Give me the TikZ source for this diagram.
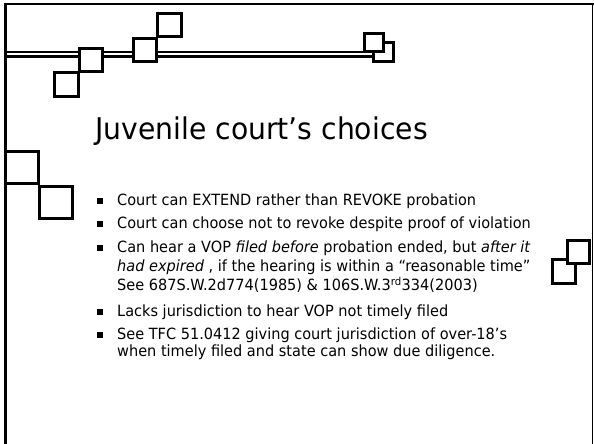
\documentclass[tikz,border=0pt]{standalone}
\usepackage{fontspec}
\setmainfont{DejaVu Sans}[FakeStretch=0.94]
\newfontfamily\titlefont{DejaVu Sans}[FakeStretch=0.945]
\begin{document}
\begin{tikzpicture}[x=1bp,y=-1bp,
  sq/.style={draw=black,line width=3bp,fill=white,line join=miter},
  bigsq/.style={draw=black,line width=3.4bp,fill=white,line join=miter},
  frameline/.style={draw=black,line width=2.4bp},
  body/.style={anchor=base west,inner sep=0pt,font=\fontsize{15.5}{18}\selectfont},
  bul/.style={fill=black,minimum size=6bp,inner sep=0pt}]
\useasboundingbox (0,0) rectangle (594,444);
% frame
\draw[frameline] (5.5,444) -- (5.5,4) -- (594,4);
\draw[draw=black,line width=1.8bp] (592.5,4) -- (592.5,444);
% double line
\draw[black,line width=2.4bp] (5,52) -- (374,52);
\draw[black,line width=3.2bp] (5,56.7) -- (374,56.7);
% top squares
\draw[sq] (54.5,72.5) rectangle (78.5,96.5);
\draw[sq] (79.5,48.5) rectangle (102.5,71.5);
\draw[sq] (133.5,38.5) rectangle (156.5,61.5);
\draw[sq] (157.5,13.5) rectangle (181.5,36.5);
\draw[sq] (373.5,42.5) rectangle (393.5,61.5);
\draw[sq] (364.5,33.5) rectangle (383.5,51.5);
% left squares
\draw[bigsq] (5.5,151.5) rectangle (38.5,183.5);
\draw[bigsq] (39.5,186.5) rectangle (72.5,218.5);
% right squares
\draw[sq] (552.5,259.5) rectangle (575.5,283.5);
\draw[sq] (567.5,240.5) rectangle (589.5,263.5);
% title
\node[anchor=base west,inner sep=0pt,font=\titlefont\fontsize{30}{36}\selectfont] (title) at (95,140) {Juvenile court’s choices};
% bullets
\node[bul] (b1) at (99.5,201.5) {};
\node[bul] (b2) at (99.5,224.5) {};
\node[bul] (b3) at (99.5,248) {};
\node[bul] (b4) at (99.5,311.5) {};
\node[bul] (b5) at (99.5,335) {};
% body text
\node[body] (l1) at (117,206) {Court can EXTEND rather than REVOKE probation};
\node[body] (l2) at (117,229) {Court can choose not to revoke despite proof of violation};
\node[body] (l3) at (117,252.5) {Can hear a VOP \textit{filed before} probation ended, but \textit{after it}};
\node[body] (l3b) at (117,271.5) {\textit{had expired} , if the hearing is within a “reasonable time”};
\node[body] (l3c) at (117,291) {See 687S.W.2d774(1985) \& 106S.W.3\textsuperscript{rd}334(2003)};
\node[body] (l4) at (117,316) {Lacks jurisdiction to hear VOP not timely filed};
\node[body] (l5) at (117,339) {See TFC 51.0412 giving court jurisdiction of over-18’s};
\node[body] (l5b) at (117,356) {when timely filed and state can show due diligence.};
\end{tikzpicture}
\end{document}
